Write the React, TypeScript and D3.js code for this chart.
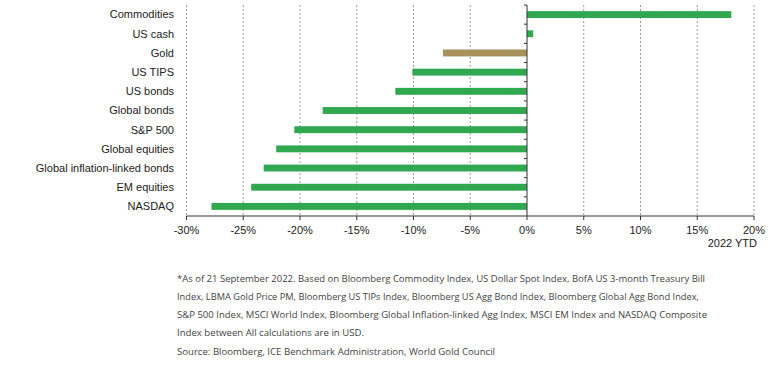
import React from "react";
import * as d3 from "d3";

const categories = [
  "Commodities",
  "US cash",
  "Gold",
  "US TIPS",
  "US bonds",
  "Global bonds",
  "S&P 500",
  "Global equities",
  "Global inflation-linked bonds",
  "EM equities",
  "NASDAQ",
];
const values = [18.0, 0.55, -7.4, -10.1, -11.6, -18.0, -20.5, -22.1, -23.2, -24.3, -27.8];
const highlight = ["Gold"];
const xTicks = [-30, -25, -20, -15, -10, -5, 0, 5, 10, 15, 20];
const axisTitle = "2022 YTD";
const footnoteLines = [
  "*As of 21 September 2022. Based on Bloomberg Commodity Index, US Dollar Spot Index, BofA US 3-month Treasury Bill",
  "Index, LBMA Gold Price PM, Bloomberg US TIPs Index, Bloomberg US Agg Bond Index, Bloomberg Global Agg Bond Index,",
  "S&P 500 Index, MSCI World Index, Bloomberg Global Inflation-linked Agg Index, MSCI EM Index and NASDAQ Composite",
  "Index between All calculations are in USD.",
  "Source: Bloomberg, ICE Benchmark Administration, World Gold Council",
];
const footnoteWidths = [528, 522, 530, 187, 318];

export default function App() {
  const W = 780;
  const H = 377;
  const x = d3.scaleLinear().domain([-30, 20]).range([186.5, 754]);
  const y = d3.scaleBand<string>().domain(categories).range([5, 216]).paddingInner(0.64).paddingOuter(0.32);
  const yb = d3.scaleBand<string>().domain(categories).range([5, 216]);
  const green = "#2fa84f";
  const gold = "#a8915c";
  const labelFont = "'Liberation Sans', Arial, sans-serif";
  const footFont = "'Open Sans', 'Noto Sans', sans-serif";
  const x0 = x(0);
  return (
    <svg width={W} height={H} style={{ position: "absolute", left: 0, top: 0, background: "#fff" }}>
      {xTicks.filter((t) => t !== 0).map((t) => (
        <line key={"g" + t} x1={x(t)} x2={x(t)} y1={5} y2={216} stroke="#9a9a9a" strokeWidth={1} strokeDasharray="2,2" />
      ))}
      {categories.map((c, i) => {
        const v = values[i];
        return (
          <rect
            key={c}
            x={Math.min(x(v), x0)}
            y={y(c)}
            width={Math.abs(x(v) - x0)}
            height={y.bandwidth()}
            fill={highlight.includes(c) ? gold : green}
          />
        );
      })}
      <line x1={x0} x2={x0} y1={5} y2={216} stroke="#333" strokeWidth={1} />
      {categories.map((c) => (
        <line key={"yt" + c} x1={x0 - 3} x2={x0} y1={yb(c)} y2={yb(c)} stroke="#333" strokeWidth={1} />
      ))}
      <line x1={x(-30)} x2={x(20)} y1={216} y2={216} stroke="#333" strokeWidth={1} />
      {xTicks.map((t) => (
        <g key={"xt" + t}>
          <line x1={x(t)} x2={x(t)} y1={216} y2={220} stroke="#333" strokeWidth={1} />
          <text x={x(t)} y={234} textAnchor="middle" fontFamily={labelFont} fontSize={11} fill="#222">
            {t + "%"}
          </text>
        </g>
      ))}
      <text x={757} y={247} textAnchor="end" fontFamily={labelFont} fontSize={11} fill="#222">
        {axisTitle}
      </text>
      {categories.map((c) => (
        <text
          key={"l" + c}
          x={174}
          y={(yb(c) as number) + yb.bandwidth() / 2}
          dy="0.35em"
          textAnchor="end"
          fontFamily={labelFont}
          fontSize={11}
          fill="#222"
        >
          {c}
        </text>
      ))}
      {footnoteLines.map((l, i) => (
        <text
          key={"f" + i}
          x={177}
          y={281.5 + i * 18.3}
          fontFamily={footFont}
          fontSize={9.5}
          fill="#444"
          textLength={footnoteWidths[i]}
          lengthAdjust="spacingAndGlyphs"
        >
          {l}
        </text>
      ))}
    </svg>
  );
}
